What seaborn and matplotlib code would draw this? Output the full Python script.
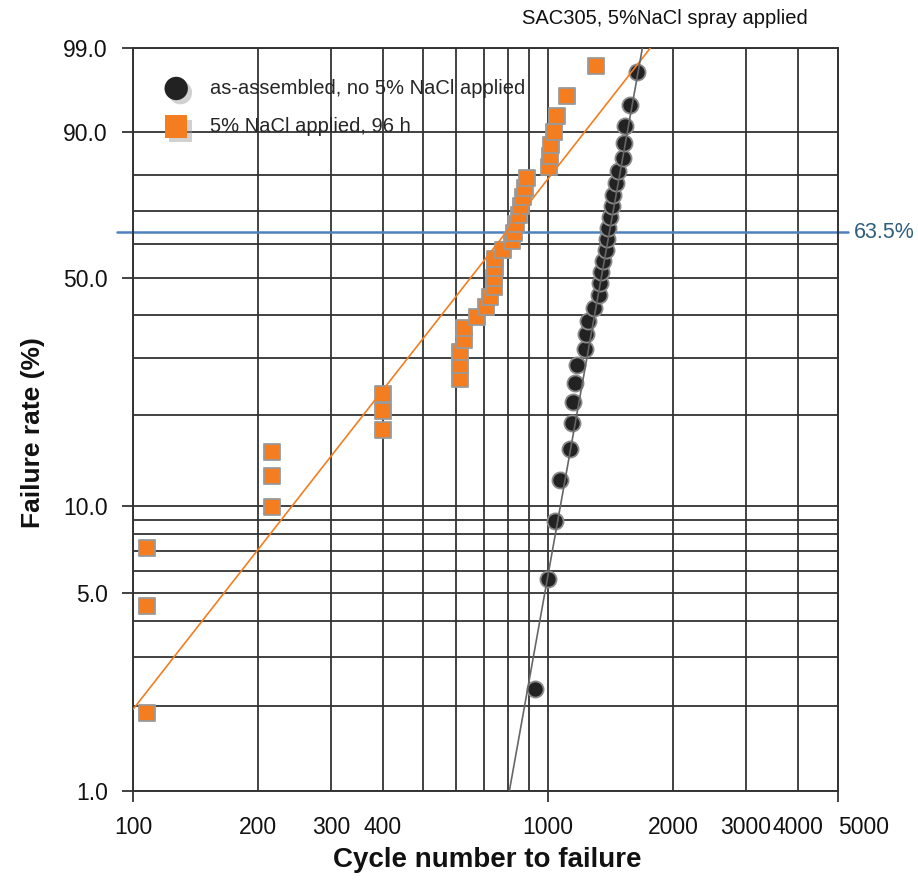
import numpy as np
import matplotlib
matplotlib.use("Agg")
import matplotlib.pyplot as plt
import matplotlib.patheffects as pe
from matplotlib.transforms import blended_transform_factory
import seaborn as sns

# as-assembled (no NaCl) : cycles to failure and median-rank failure rate (%)
ref_cycles = [930, 1000, 1040, 1069, 1130, 1143, 1150, 1163, 1176, 1229,
              1236, 1250, 1292, 1329, 1336, 1344, 1359, 1382, 1390, 1398,
              1413, 1429, 1437, 1461, 1477, 1519, 1528, 1536, 1579, 1642]
ref_pct = [2.3, 5.6, 8.9, 12.2, 15.5, 18.8, 22.0, 25.3, 28.6, 31.9,
           35.2, 38.5, 41.8, 45.1, 48.4, 51.6, 54.9, 58.2, 61.5, 64.8,
           68.1, 71.4, 74.7, 78.0, 81.3, 84.5, 87.8, 91.1, 94.4, 97.7]

# 5% NaCl applied, 96 h
nacl_cycles = [108, 108, 108, 216, 216, 216, 401, 401, 401, 615,
               615, 615, 627, 627, 673, 708, 724, 740, 740, 745,
               745, 778, 818, 827, 837, 851, 860, 869, 879, 889,
               1006, 1011, 1017, 1034, 1052, 1112, 1307]
nacl_pct = [1.9, 4.5, 7.2, 9.9, 12.6, 15.2, 17.9, 20.6, 23.3, 25.9,
            28.6, 31.3, 34.0, 36.6, 39.3, 42.0, 44.7, 47.3, 50.0, 52.7,
            55.4, 58.0, 60.7, 63.4, 66.0, 68.7, 71.4, 74.1, 76.7, 79.4,
            82.1, 84.8, 87.4, 90.1, 92.8, 95.5, 98.1]

# Weibull fit lines (shape, scale)
ref_fit = (8.3, 1405)
nacl_fit = (1.9, 790)

char_life = 63.5

y_major = [1, 5, 10, 50, 90, 99]
y_minor = [2, 3, 4, 6, 7, 8, 9, 20, 30, 40, 60, 70, 80]
x_major = [100, 1000, 5000]
x_minor = [200, 300, 400, 500, 600, 700, 800, 900, 2000, 3000, 4000]
x_minor_labels = ["200", "300", "400", "", "", "", "", "", "2000", "3000", "4000"]

orange = "#F47D20"
grid_c = "#333333"

sns.set_theme(style="white")
plt.rcParams["font.family"] = ["Liberation Sans", "DejaVu Sans"]


def weib_fwd(p):
    p = np.clip(np.asarray(p, dtype=float), 1e-6, 100 - 1e-9)
    return np.log(-np.log(1 - p / 100.0))


def weib_inv(w):
    return 100.0 * (1 - np.exp(-np.exp(np.asarray(w, dtype=float))))


fig = plt.figure(figsize=(9.18, 8.82), dpi=100)
ax = fig.add_axes([133 / 918, 1 - 791 / 882, 705 / 918, 743 / 882])
ax.set_xscale("log")
ax.set_yscale("function", functions=(weib_fwd, weib_inv))

n_grid = np.geomspace(100, 5000, 600)
for (beta, eta), col in [(nacl_fit, orange), (ref_fit, "#666666")]:
    f = 100 * (1 - np.exp(-(n_grid / eta) ** beta))
    keep = (f > 0.05) & (f < 99.9)
    sns.lineplot(x=n_grid[keep], y=f[keep], ax=ax, color=col, lw=1.2,
                 zorder=4, sort=False, estimator=None)

sns.scatterplot(x=ref_cycles, y=ref_pct, ax=ax, marker="o", s=135,
                color="#222222", edgecolor="#8a8a8a", linewidth=1.3,
                zorder=3, label="as-assembled, no 5% NaCl applied")
sns.scatterplot(x=nacl_cycles, y=nacl_pct, ax=ax, marker="s", s=125,
                color=orange, edgecolor="#9a9a9a", linewidth=1.3,
                zorder=3, label="5% NaCl applied, 96 h")

ax.axhline(char_life, xmin=-0.023, xmax=1.014, color="#4F81BD", lw=1.8,
           zorder=2.5, clip_on=False)
tr = blended_transform_factory(ax.transAxes, ax.transData)
ax.text(1.022, char_life, f"{char_life}%", transform=tr, ha="left",
        va="center", fontsize=15.5, color="#2E5F7E")

ax.set_xlim(100, 5000)
ax.set_ylim(1, 99)

ax.set_yticks(y_major, [f"{v:.1f}" for v in y_major])
ax.set_yticks(y_minor, minor=True)
ax.set_xticks(x_major, [str(v) for v in x_major])
ax.set_xticks(x_minor, x_minor_labels, minor=True)
ax.tick_params(axis="both", which="major", length=8, width=1.3, color=grid_c,
               labelsize=16.5, labelcolor="#111111", direction="out")
ax.tick_params(axis="y", which="major", pad=10, left=True)
ax.tick_params(axis="x", which="major", pad=10, bottom=True)
ax.tick_params(axis="y", which="minor", length=0, left=False)
ax.tick_params(axis="x", which="minor", length=0, pad=18, labelsize=16.5,
               labelcolor="#111111")
ax.grid(True, which="both", color=grid_c, lw=1.3)
ax.set_axisbelow(True)
for s in ax.spines.values():
    s.set_color(grid_c)
    s.set_linewidth(1.4)

# last label sits to the right of its tick, as in the original
ax.xaxis.get_major_ticks()[-1].label1.set_horizontalalignment("left")

ax.set_xlabel("Cycle number to failure", fontsize=20, fontweight="bold",
              color="#111111")
ax.xaxis.set_label_coords(0.502, -0.075)
ax.set_ylabel("Failure rate (%)", fontsize=19, fontweight="bold",
              color="#111111")
ax.yaxis.set_label_coords(-0.125, 0.482)

fig.text(808 / 918, 1 - 18 / 882, "SAC305, 5%NaCl spray applied",
         ha="right", va="center", fontsize=14.5, color="#111111")

leg = ax.legend(loc="upper left", bbox_to_anchor=(0.007, 0.983), frameon=False,
                fontsize=14.5, handletextpad=0.7, labelspacing=0.95,
                markerscale=1.45)
for h in leg.legend_handles:
    h.set_path_effects([pe.SimplePatchShadow(offset=(3, -3),
                                             shadow_rgbFace="#999999", alpha=0.45),
                        pe.Normal()])
    h.set_edgecolor("none")

fig.savefig("out.png", dpi=100)
